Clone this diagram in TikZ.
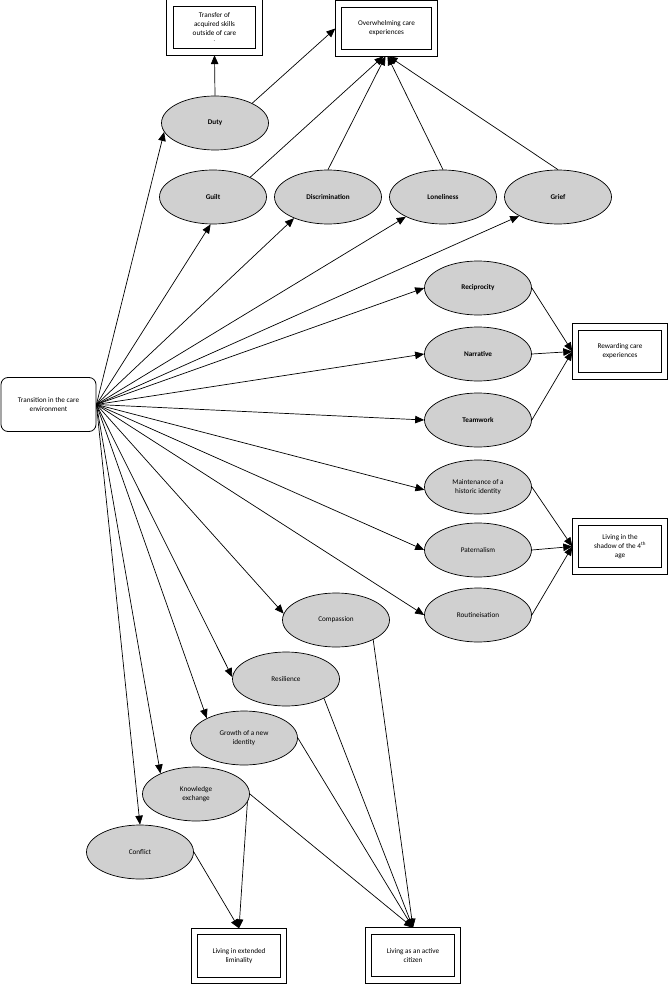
\documentclass[tikz,border=0pt]{standalone}
\usepackage{fontspec}
\setmainfont{Carlito}
\usetikzlibrary{arrows.meta,shapes.geometric}
\definecolor{ovalgray}{RGB}{208,208,208}
\begin{document}
\begin{tikzpicture}[x=1pt,y=-1pt,
  every node/.style={font=\fontsize{7.2}{9}\selectfont},
  oval/.style={ellipse, draw, fill=ovalgray, line width=0.7pt, minimum width=107pt, minimum height=54pt, inner sep=0pt, align=center},
  boldoval/.style={oval, font=\fontsize{7.2}{9}\selectfont\bfseries},
  outcome/.style={draw, double, double distance=5.5pt, line width=0.8pt, outer sep=3.2pt, inner sep=0pt, minimum width=89pt, minimum height=49pt, align=center},
  link/.style={-{Triangle[length=9pt,width=7.5pt]}, line width=0.7pt},
  startbox/.style={draw, rounded corners=7pt, line width=0.8pt, minimum width=95pt, minimum height=54pt, align=center, inner sep=0pt}
]
\fill[white] (0,0) rectangle (669,984);
\useasboundingbox (0,0) rectangle (669,984);

% start node
\node[startbox] (trans) at (48.5,404.5) {Transition in the care\\environment};

% ovals
\node[boldoval] (duty)  at (215,123) {Duty};
\node[boldoval] (guilt) at (213,197) {Guilt};
\node[boldoval] (discr) at (328,197) {Discrimination};
\node[boldoval] (lone)  at (443,197) {Loneliness};
\node[boldoval] (grief) at (558,197) {Grief};
\node[boldoval] (recip) at (478,288) {Reciprocity};
\node[boldoval] (narr)  at (478,354) {Narrative};
\node[boldoval] (team)  at (478,420) {Teamwork};
\node[oval] (maint)   at (478,487) {Maintenance of a\\historic identity};
\node[oval] (pater)   at (478,550) {Paternalism};
\node[oval] (routine) at (478,615) {Routineisation};
\node[oval] (comp)    at (336,620) {Compassion};
\node[oval] (resil)   at (286,679) {Resilience};
\node[oval] (growth)  at (244,738) {Growth of a new\\identity};
\node[oval] (know)    at (196,794) {Knowledge\\exchange};
\node[oval] (conflict) at (140,852) {Conflict};

% outcome boxes
\node[outcome] (transfer) at (214.5,27.5) {Transfer of\\acquired skills\\outside of care\\[-3pt]{\fontsize{6}{6}\selectfont .}};
\node[outcome, minimum width=96pt] (overw) at (386.5,28.5) {Overwhelming care\\experiences};
\node[outcome] (reward) at (620,351.5) {Rewarding care\\experiences};
\node[outcome] (shadow) at (620,546.5) {Living in the\\shadow of the 4\textsuperscript{th}\\age};
\node[outcome] (limin) at (239,956) {Living in extended\\liminality};
\node[outcome] (citizen) at (413,955.5) {Living as an active\\citizen};

% from transition to ovals
\draw[link] (trans.east) -- (duty.190);
\draw[link] (trans.east) -- (guilt.265);
\draw[link] (trans.east) -- (discr.212);
\draw[link] (trans.east) -- (lone.208);
\draw[link] (trans.east) -- (grief.206);
\draw[link] (trans.east) -- (recip.west);
\draw[link] (trans.east) -- (narr.west);
\draw[link] (trans.east) -- (team.west);
\draw[link] (trans.east) -- (maint.183);
\draw[link] (trans.east) -- (pater.west);
\draw[link] (trans.east) -- (routine.west);
\draw[link] (trans.east) -- (comp.173);
\draw[link] (trans.east) -- (resil.178);
\draw[link] (trans.east) -- (growth.152);
\draw[link] (trans.east) -- (know.150);
\draw[link] (trans.east) -- (conflict.north);

% to overwhelming / transfer
\draw[link] (duty.north) -- (transfer.south);
\draw[link] (duty.28) -- (overw.west);
\draw[link] (guilt.28) -- ([xshift=-3pt]overw.south);
\draw[link] (discr.north) -- ([xshift=-1pt]overw.south);
\draw[link] (lone.north) -- ([xshift=1pt]overw.south);
\draw[link] (grief.north) -- ([xshift=2pt]overw.south);

% to rewarding
\draw[link] (recip.east) -- (reward.west);
\draw[link] (narr.east) -- (reward.west);
\draw[link] (team.east) -- (reward.west);

% to shadow
\draw[link] (maint.east) -- (shadow.west);
\draw[link] (pater.east) -- (shadow.west);
\draw[link] (routine.east) -- (shadow.west);

% to citizen
\draw[link] (comp.332) -- (citizen.north);
\draw[link] (resil.333) -- (citizen.north);
\draw[link] (growth.east) -- (citizen.north);
\draw[link] (know.east) -- (citizen.north);

% to liminality
\draw[link] (know.351) -- (limin.north);
\draw[link] (conflict.east) -- (limin.north);
\end{tikzpicture}
\end{document}
